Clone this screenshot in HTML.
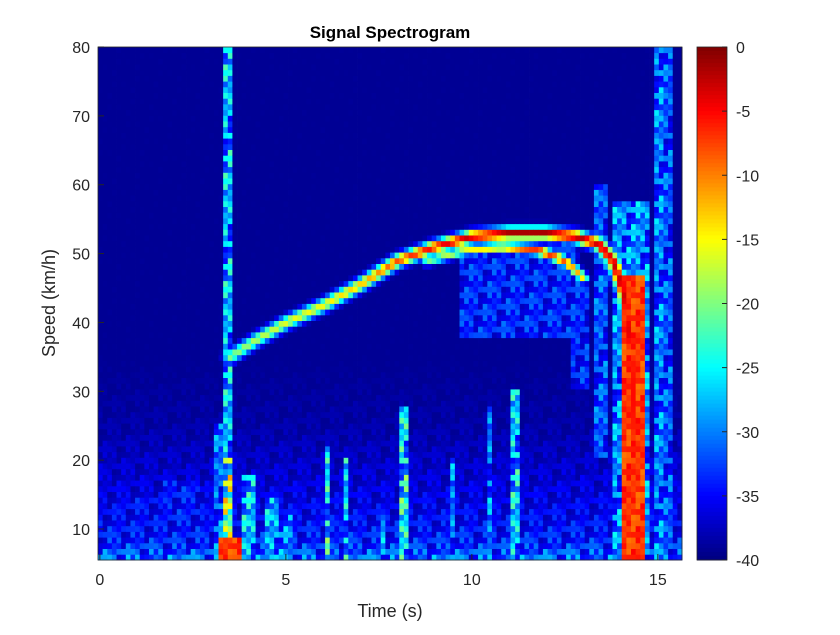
<!DOCTYPE html>
<html><head><meta charset="utf-8"><style>
body{margin:0;background:#fff;width:840px;height:630px;overflow:hidden;font-family:"Liberation Sans",sans-serif}
svg text{font-family:"Liberation Sans",sans-serif;fill:#262626}
</style></head><body>
<svg id="chart" width="840" height="630" xmlns="http://www.w3.org/2000/svg">
<g id="cells"></g>
<g id="axes"></g>
<text x="390" y="38" text-anchor="middle" font-size="17" font-weight="bold" style="fill:#000">Signal Spectrogram</text>
<text x="390" y="617" text-anchor="middle" font-size="18">Time (s)</text>
<text transform="translate(55,303) rotate(-90)" text-anchor="middle" font-size="18">Speed (km/h)</text>
<g id="cbar"></g>
</svg>
<script>
// Axis ranges
const tMin=-0.05,tMax=15.65,sMin=5.5,sMax=80;
const xTicks=[0,5,10,15];
const yTicks=[10,20,30,40,50,60,70,80];
const cTicks=[0,-5,-10,-15,-20,-25,-30,-35,-40];
// Background noise floor by speed band
const bandS=[5.5,8,12,18,25,35,80];
const bandLevel=[0.3,0.2,0.15,0.1,0.05,0.02,0.02];
// Speckle texture multipliers
const tex=[1,0.55,0.9,0.35,1.15,0.7,0.45,1,0.8,0.3,1.2,0.6,0.95,0.5,1.05,0.7,0.4,0.85,1.1];
// Main ridge (time, speed, strength)
const ridgeT=[3.5,4.2,5,6,7,8,9,10,11,12,12.8,13.4,13.8,14.1,14.3,14.4,14.4];
const ridgeS=[35,37.5,40,42.5,45.5,49,51,52.5,53,53,52.5,51.5,49,44,35,20,5.5];
const ridgeA=[0.5,0.55,0.6,0.62,0.68,0.8,0.88,0.93,0.97,0.97,0.95,0.93,0.93,0.92,0.88,0.85,0.85];
// Harmonic ridge
const ridge2T=[8.8,9.8,10.8,11.8,12.5,13.0];
const ridge2S=[49,50.5,51,50.5,49,46.5];
const ridge2A=[0.5,0.6,0.7,0.85,0.8,0.65];
// Vertical stripes: time centre, width, speed from, speed to, level
const stT=[3.45,3.45,3.2,3.5,14.3,14.3,15.0,15.3,13.5,6.1,6.6,8.2,7.6,10.5,11.2,9.5,4.0,4.6,5.0,11.3,12.9,2.2,1.0];
const stW=[0.3,0.3,0.2,0.6,0.6,1.0,0.3,0.3,0.4,0.2,0.2,0.2,0.15,0.2,0.25,0.15,0.3,0.3,0.3,3.2,0.5,1.0,1.2];
const stS0=[5.5,5.5,5.5,5.5,5.5,5.5,5.5,5.5,20,5.5,5.5,5.5,5.5,5.5,5.5,5.5,5.5,5.5,5.5,38,30,5.5,5.5];
const stS1=[80,20,25,9,47,58,80,80,60,22,20,28,12,28,30,20,18,15,12,52,45,17,15];
const stV=[0.38,0.6,0.28,0.85,0.85,0.32,0.3,0.25,0.25,0.45,0.4,0.45,0.35,0.3,0.4,0.3,0.38,0.35,0.3,0.2,0.2,0.18,0.16];

const X0=98,X1=682,Y0=47,Y1=560;
const xs=t=>X0+(t-tMin)/(tMax-tMin)*(X1-X0);
const ys=s=>Y1-(s-sMin)/(sMax-sMin)*(Y1-Y0);
const NS="http://www.w3.org/2000/svg";
function jet(v){v=Math.max(0,Math.min(1,v));const c=x=>Math.round(255*Math.max(0,Math.min(1,x)));
return `rgb(${c(1.5-Math.abs(4*v-3))},${c(1.5-Math.abs(4*v-2))},${c(1.5-Math.abs(4*v-1))})`;}
function interp(xa,ya,x){if(x<=xa[0])return ya[0];for(let i=1;i<xa.length;i++)if(x<=xa[i]){const f=(x-xa[i-1])/(xa[i]-xa[i-1]);return ya[i-1]+f*(ya[i]-ya[i-1]);}return ya[ya.length-1];}
function ridgeVal(T,S,A,t,s,w){const px=xs(t),py=ys(s);let best=0;
for(let i=1;i<T.length;i++){const ax=xs(T[i-1]),ay=ys(S[i-1]),bx=xs(T[i]),by=ys(S[i]);
const dx=bx-ax,dy=by-ay,L=dx*dx+dy*dy;let f=L?((px-ax)*dx+(py-ay)*dy)/L:0;f=Math.max(0,Math.min(1,f));
const d=Math.hypot(px-ax-f*dx,py-ay-f*dy);const a=A[i-1]+f*(A[i]-A[i-1]);best=Math.max(best,a*Math.exp(-(d/w)*(d/w)));}
return best;}
const nt=126,nsb=90,dt=(tMax-tMin)/nt,ds=(sMax-sMin)/nsb;
const g=document.getElementById('cells');
for(let i=0;i<nt;i++){for(let j=0;j<nsb;j++){
const t=tMin+(i+0.5)*dt,s=sMin+(j+0.5)*ds;
let v=interp(bandS,bandLevel,s);
for(let k=0;k<stT.length;k++){if(Math.abs(t-stT[k])<=stW[k]/2&&s>=stS0[k]&&s<=stS1[k])v=Math.max(v,stV[k]);}
const m=tex[(i*7+j*3)%tex.length];
v=v*(v>0.7?(0.85+0.15*m):m);
v=Math.max(v,ridgeVal(ridgeT,ridgeS,ridgeA,t,s,6.5));
v=Math.max(v,ridgeVal(ridge2T,ridge2S,ridge2A,t,s,5));
v=Math.max(v,0.02);
const r=document.createElementNS(NS,'rect');


const x=xs(tMin+i*dt),y=ys(sMin+(j+1)*ds);
r.setAttribute('x',x.toFixed(2));r.setAttribute('y',y.toFixed(2));
r.setAttribute('width',(xs(tMin+(i+1)*dt)-x+0.4).toFixed(2));r.setAttribute('height',(ys(sMin+j*ds)-y+0.4).toFixed(2));
r.setAttribute('fill',jet(v));g.appendChild(r);}}
const ax=document.getElementById('axes');
function el(tag,attrs,parent,name,txt){const e=document.createElementNS(NS,tag);for(const k in attrs)e.setAttribute(k,attrs[k]);


if(txt!==undefined)e.textContent=txt;parent.appendChild(e);return e;}
el('rect',{x:X0,y:Y0,width:X1-X0,height:Y1-Y0,fill:'none',stroke:'#262626','stroke-width':0.8},ax,'plot-frame');
xTicks.forEach(t=>{const x=xs(t);el('line',{x1:x,x2:x,y1:Y1,y2:Y1-6,stroke:'#262626'},ax,'x-tick');
el('text',{x:x,y:Y1+25,'text-anchor':'middle','font-size':16},ax,'x-tick-label',String(t));});
yTicks.forEach(s=>{const y=ys(s);el('line',{x1:X0,x2:X0+6,y1:y,y2:y,stroke:'#262626'},ax,'y-tick');
el('text',{x:X0-8,y:y+6,'text-anchor':'end','font-size':16},ax,'y-tick-label',String(s));});
const cb=document.getElementById('cbar');const CX=697,CW=30;
for(let k=0;k<128;k++){const y=Y0+k*(Y1-Y0)/128;el('rect',{x:CX,y:y,width:CW,height:(Y1-Y0)/128+0.5,fill:jet(1-(k+0.5)/128)},cb,'colorbar-swatch');}
el('rect',{x:CX,y:Y0,width:CW,height:Y1-Y0,fill:'none',stroke:'#262626','stroke-width':0.8},cb,'colorbar-frame');
cTicks.forEach(c=>{const y=Y0+(-c/40)*(Y1-Y0);el('line',{x1:CX+CW-5,x2:CX+CW,y1:y,y2:y,stroke:'#262626'},cb,'colorbar-tick');
el('text',{x:CX+CW+9,y:y+6,'font-size':16},cb,'colorbar-tick-label',String(c));});
</script>
</body></html>
